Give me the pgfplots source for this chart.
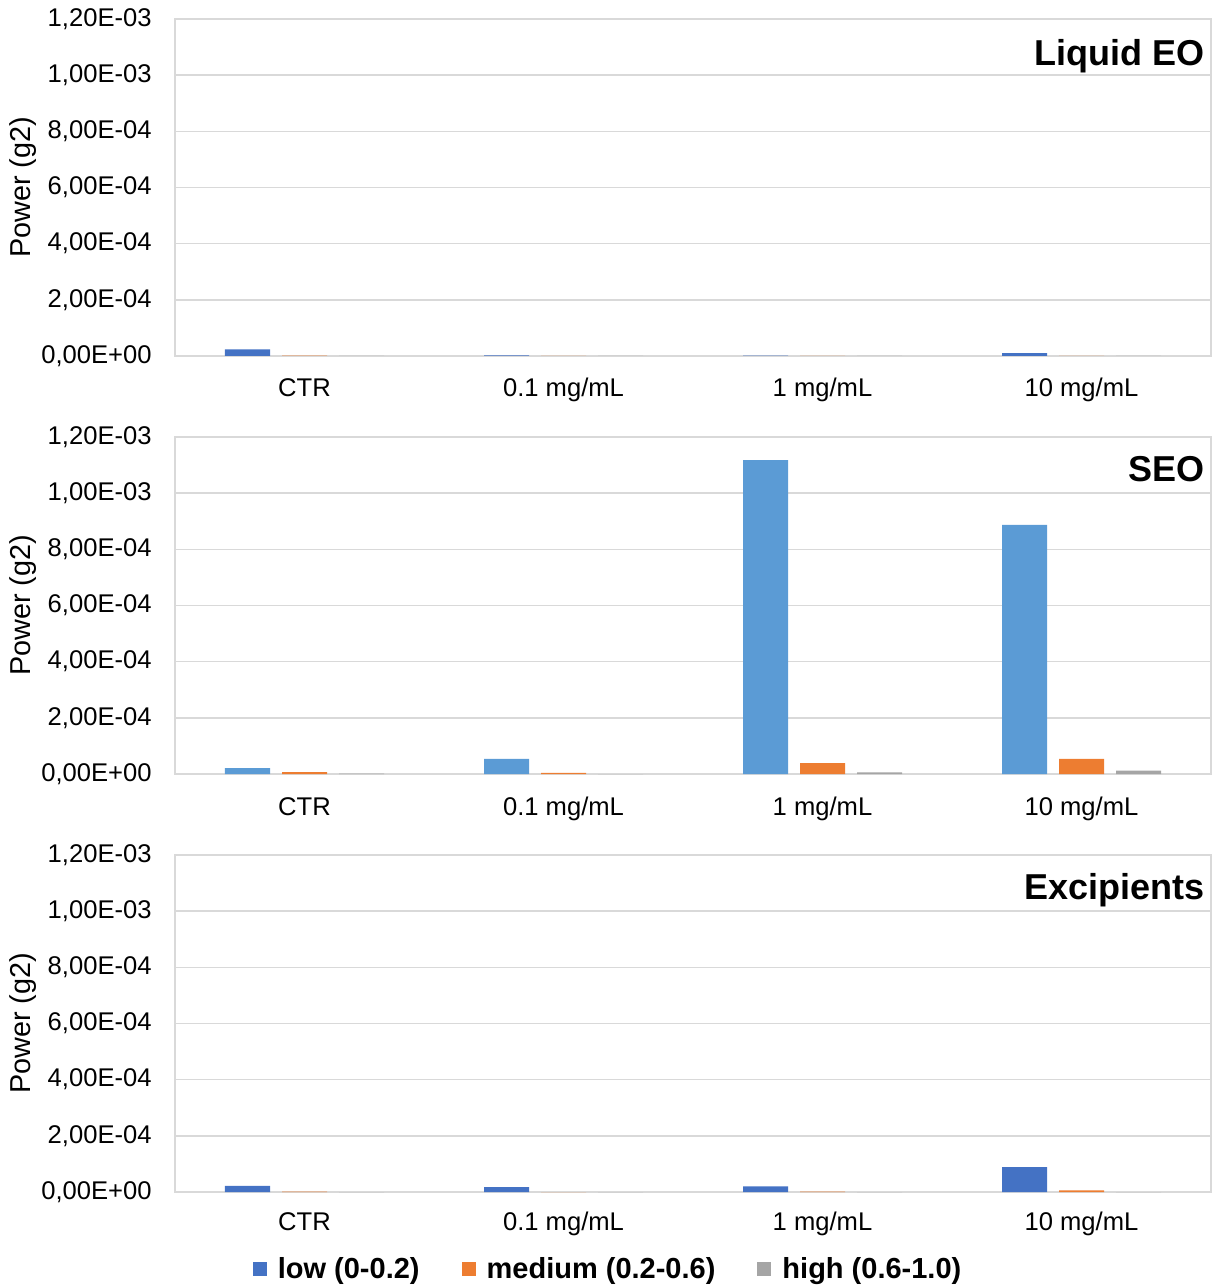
\documentclass[border=0pt]{standalone}
\usepackage{fontspec}
\setmainfont{Liberation Sans}
\usepackage{pgfplots}
\pgfplotsset{compat=1.18}
\usepackage{pgfplotstable}

\definecolor{lowA}{HTML}{4472C4}
\definecolor{lowB}{HTML}{5B9BD5}
\definecolor{medC}{HTML}{ED7D31}
\definecolor{highC}{HTML}{A5A5A5}
\definecolor{gridC}{HTML}{D9D9D9}

% Power per frequency band (g^2); x: 0 = CTR, 1 = 0.1, 2 = 1, 3 = 10 mg/mL
\pgfplotstableread{
x low      medium  high
0 2.4e-5   1.5e-6  0
1 2.0e-6   0       0
2 1.5e-6   0       0
3 1.0e-5   0       0
}\liquideo
\pgfplotstableread{
x low      medium  high
0 2.1e-5   7e-6    1e-6
1 5.4e-5   4e-6    0
2 1.118e-3 3.9e-5  6e-6
3 8.87e-4  5.4e-5  1.2e-5
}\seo
\pgfplotstableread{
x low      medium  high
0 2.2e-5   1e-6    0
1 1.7e-5   0       0
2 2.0e-5   1e-6    0
3 8.9e-5   6e-6    0
}\excip

\pgfplotsset{
  panel/.style={
    width=518pt, height=168.5pt, scale only axis,
    anchor=north west,
    ybar=6pt, bar width=22.5pt,
    xmin=-0.5, xmax=3.5, ymin=0, ymax=0.0012,
    xtick={0,1,2,3},
    xticklabels={CTR,0.1 mg/mL,1 mg/mL,10 mg/mL},
    ytick={0,0.0002,0.0004,0.0006,0.0008,0.001,0.0012},
    yticklabels={{0,00E+00},{2,00E-04},{4,00E-04},{6,00E-04},{8,00E-04},{1,00E-03},{1,20E-03}},
    scaled y ticks=false,
    major tick length=0pt,
    ymajorgrids, grid style={gridC, line width=0.75pt},
    axis line style={gridC, line width=0.75pt},
    tick label style={font=\fontsize{12.8}{14}\selectfont},
    yticklabel style={inner sep=0pt, xshift=-11.5pt},
    xticklabel style={anchor=base, inner sep=0pt, yshift=-20.5pt},
    ylabel={Power (g2)},
    every axis y label/.style={at={(axis description cs:-0.1467,0.5)},
      rotate=90, anchor=center, font=\fontsize{14.4}{16}\selectfont},
  },
}
\tikzset{
  ptitle/.style={anchor=base east, inner sep=0pt, xshift=-3pt, yshift=-22pt,
    font=\bfseries\fontsize{18}{20}\selectfont},
}

\begin{document}
\begin{tikzpicture}
\useasboundingbox (-87.5pt,9.5pt) rectangle (519.5pt,-634.5pt);

% Liquid essential oil
\begin{axis}[panel, at={(0,0)}]
  \addplot[fill=lowA, draw=none] table[x=x, y=low] {\liquideo};
  \addplot[fill=medC, draw=none] table[x=x, y=medium] {\liquideo};
  \addplot[fill=highC, draw=none] table[x=x, y=high] {\liquideo};
  \node[ptitle, yshift=-1.5pt] at (rel axis cs:1,1) {Liquid EO};
\end{axis}

% Solid essential oil
\begin{axis}[panel, at={(0,-209pt)}]
  \addplot[fill=lowB, draw=none] table[x=x, y=low] {\seo};
  \addplot[fill=medC, draw=none] table[x=x, y=medium] {\seo};
  \addplot[fill=highC, draw=none] table[x=x, y=high] {\seo};
  \node[ptitle] at (rel axis cs:1,1) {SEO};
\end{axis}

% Excipients only
\begin{axis}[panel, at={(0,-418pt)},
  xticklabel style={yshift=1.5pt},
  legend columns=3,
  legend image code/.code={\fill[#1] (0pt,-3.5pt) rectangle (7pt,3.5pt);},
  legend style={at={(axis description cs:0.419,-0.2285)}, anchor=center,
    draw=none, fill=none, inner sep=0pt,
    font=\bfseries\fontsize{14.5}{16}\selectfont,
    /tikz/every odd column/.append style={column sep=3.5pt},
    /tikz/every even column/.append style={column sep=19pt}},
]
  \addplot[fill=lowA, draw=none] table[x=x, y=low] {\excip};
  \addplot[fill=medC, draw=none] table[x=x, y=medium] {\excip};
  \addplot[fill=highC, draw=none] table[x=x, y=high] {\excip};
  \node[ptitle] at (rel axis cs:1,1) {Excipients};
  \legend{low (0-0.2), medium (0.2-0.6), high (0.6-1.0)}
\end{axis}
\end{tikzpicture}
\end{document}
